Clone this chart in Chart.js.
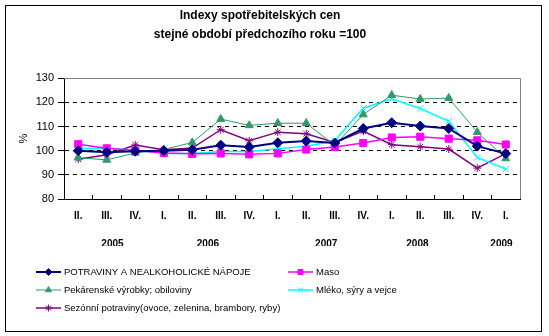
<!DOCTYPE html>
<html>
<head>
<meta charset="utf-8">
<script src="https://cdn.jsdelivr.net/npm/chart.js@4/dist/chart.umd.min.js"></script>
<style>
  body { margin: 0; background: #fff; }
  #wrap { position: relative; width: 549px; height: 336px; }
  #ramecek { position: absolute; left: 5px; top: 5px; width: 537px; height: 327px; box-sizing: border-box; border: 1px solid #000; pointer-events: none; }
  canvas { position: absolute; left: 0; top: 0; }
</style>
</head>
<body>
<div id="wrap">
  <canvas id="graf" width="549" height="336"></canvas>
  <div id="ramecek"></div>
</div>
<script>
const ctvrtleti = ['II.', 'III.', 'IV.', 'I.', 'II.', 'III.', 'IV.', 'I.', 'II.', 'III.', 'IV.', 'I.', 'II.', 'III.', 'IV.', 'I.'];
const roky = ['2005', '2006', '2007', '2008', '2009'];
const rokyNa = [1.2, 4.55, 8.7, 11.9, 14.85];   // kde pod osou stojí rok (v jednotkách kategorií)

const potraviny = [100, 99.4, 99.8, 100, 100.4, 102.3, 101.5, 103.3, 104, 103.2, 109.2, 111.6, 110.2, 109.2, 101.9, 98.8];
const maso = [102.7, 101, 100.1, 99.1, 98.7, 98.9, 98.5, 98.9, 100.5, 101.5, 103.2, 105.5, 105.8, 105, 104.3, 102.6];
const pekarenske = [97.1, 96.2, 99.1, 100.5, 103.4, 113.1, 110.5, 111.4, 111.4, 102.2, 115, 123, 121.4, 121.8, 107.7, 96.8];
const mleko = [100.9, 101, 100.2, 98.8, 98.9, 99.7, 99.7, 100.8, 101.9, 104.1, 117.6, 121.5, 117.5, 112.3, 97.2, 92.4];
const sezonni = [96.5, 98.3, 102.4, 100.4, 101.1, 108.7, 104.1, 107.7, 107, 103.4, 108.1, 102.5, 101.6, 100.7, 92.8, 98.8];

const pismo = '"Liberation Sans", Arial, sans-serif';

function rada(nazev, data, barva, znacka, polomer, sirka) {
  return {
    label: nazev,
    data: data,
    borderColor: barva,
    backgroundColor: barva,
    borderWidth: sirka,
    pointStyle: znacka,
    pointRadius: polomer,
    pointBackgroundColor: barva,
    pointBorderColor: barva,
    pointBorderWidth: 1,
    tension: 0,
    fill: false
  };
}

// sedy ramecek grafu nahore a vpravo
const ramPlochy = {
  id: 'ramPlochy',
  beforeDatasetsDraw(chart) {
    const a = chart.chartArea;
    const c = chart.ctx;
    c.save();
    c.strokeStyle = '#808080';
    c.lineWidth = 1;
    c.beginPath();
    c.moveTo(a.left, Math.round(a.top) + 0.5);
    c.lineTo(Math.round(a.right) + 0.5, Math.round(a.top) + 0.5);
    c.lineTo(Math.round(a.right) + 0.5, a.bottom);
    c.stroke();
    c.restore();
  }
};

// legenda ve dvou sloupcich
const legendaSloupce = {
  id: 'legendaSloupce',
  afterDraw(chart, args, opts) {
    const c = chart.ctx;
    c.save();
    c.font = opts.font;
    c.textBaseline = 'middle';
    chart.data.datasets.forEach((ds, i) => {
      const x = opts.cols[i % 2];
      const y = opts.top + Math.floor(i / 2) * opts.rowHeight;
      c.strokeStyle = ds.borderColor;
      c.lineWidth = ds.borderWidth;
      c.beginPath();
      c.moveTo(x, y);
      c.lineTo(x + 25, y);
      c.stroke();
      c.fillStyle = ds.pointBackgroundColor;
      c.strokeStyle = ds.pointBorderColor;
      c.lineWidth = 1;
      Chart.helpers.drawPoint(c, { pointStyle: ds.pointStyle, radius: opts.pointRadius, borderWidth: 1, rotation: 0 }, x + 12.5, y);
      c.fillStyle = '#000';
      c.fillText(ds.label, x + 28, y);
    });
    c.restore();
  }
};

new Chart(document.getElementById('graf').getContext('2d'), {
  type: 'line',
  data: {
    labels: ctvrtleti,
    datasets: [
      rada('POTRAVINY A NEALKOHOLICKÉ NÁPOJE', potraviny, '#000080', 'rectRot', 5, 2),
      rada('Maso', maso, '#FF00FF', 'rect', 5, 1.5),
      rada('Pekárenské výrobky; obiloviny', pekarenske, '#339966', 'triangle', 4.6, 1),
      rada('Mléko, sýry a vejce', mleko, '#00FFFF', 'crossRot', 4.3, 1.5),
      rada('Sezónní potraviny(ovoce, zelenina, brambory, ryby)', sezonni, '#800080', 'star', 4, 1.5)
    ]
  },
  options: {
    responsive: false,
    animation: false,
    layout: { padding: { left: 0, right: 29, top: 0, bottom: 90 } },
    plugins: {
      legend: { display: false },
      tooltip: { enabled: false },
      title: {
        display: true,
        text: ['Indexy spotřebitelských cen', 'stejné období předchozího roku =100'],
        color: '#000',
        font: { family: pismo, size: 12, weight: 'bold', lineHeight: 1.55 },
        padding: { top: 6.5, bottom: 34.6 }
      },
      legendaSloupce: {
        cols: [36, 288],
        top: 272,
        rowHeight: 18,
        pointRadius: 3.5,
        font: '9.5px ' + pismo
      }
    },
    scales: {
      x: {
        type: 'category',
        offset: true,
        weight: 0,
        ticks: { color: '#000', font: { family: pismo, size: 10, weight: 'bold' }, padding: 15, autoSkip: false, maxRotation: 0 },
        grid: { offset: true, drawOnChartArea: false, drawTicks: true, tickLength: -4, tickColor: '#000' },
        border: { color: '#000' },
        afterFit: (a) => { a.height = 27; }
      },
      roky: {
        type: 'linear',
        position: 'bottom',
        weight: 1,
        min: -0.5,
        max: 15.5,
        afterBuildTicks: (a) => { a.ticks = rokyNa.map(v => ({ value: v })); },
        ticks: { callback: (v, i) => roky[i], color: '#000', font: { family: pismo, size: 10, weight: 'bold' }, padding: 4, autoSkip: false, maxRotation: 0 },
        grid: { display: false },
        border: { display: false },
        afterFit: (a) => { a.height = 20; }
      },
      y: {
        min: 80,
        max: 130,
        ticks: { stepSize: 10, color: '#000', font: { family: pismo, size: 11 }, padding: 4 },
        grid: {
          color: (c) => (c.tick && c.tick.value > 80 && c.tick.value < 130) ? '#000' : 'rgba(0,0,0,0)',
          tickColor: '#000',
          tickLength: 6,
          lineWidth: 1
        },
        border: { color: '#000', dash: [4, 4] },
        title: { display: true, text: '%', color: '#000', font: { family: pismo, size: 11 }, padding: { top: 17, bottom: 0 } },
        afterFit: (a) => { a.width = 64; }
      }
    }
  },
  plugins: [ramPlochy, legendaSloupce]
});
</script>
</body>
</html>
